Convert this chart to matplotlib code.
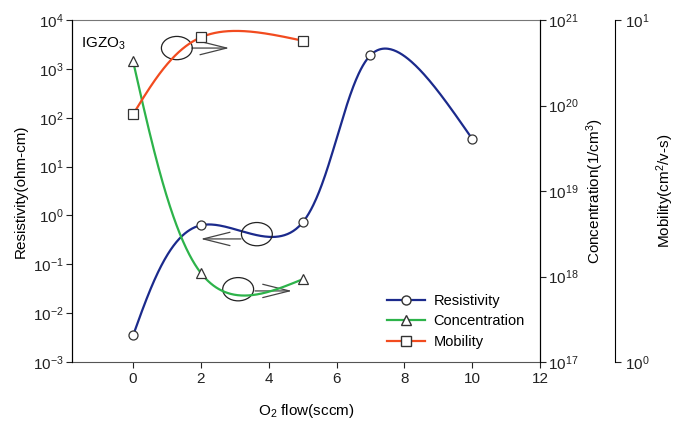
import matplotlib.pyplot as plt
import numpy as np
from matplotlib.patches import Ellipse

plt.rcParams['font.family'] = ['Liberation Sans', 'DejaVu Sans']
plt.rcParams['mathtext.fontset'] = 'custom'
plt.rcParams['mathtext.rm'] = 'Liberation Sans'
plt.rcParams['mathtext.it'] = 'Liberation Sans'

# data
o2_flow = [0, 2, 5, 7, 10]
resistivity = [3.5e-3, 0.63, 0.72, 1.9e3, 37]
conc_flow = [0, 2, 5]
concentration = [3.3e20, 1.1e18, 9.3e17]
mob_flow = [0, 2, 5]
mobility = [5.3, 8.9, 8.7]

C_RES = '#1b2a8c'
C_CON = '#2db34a'
C_MOB = '#f24b1f'


def natural(t, v, ts):
    k = len(t)
    h = np.diff(t)
    A = np.zeros((k, k))
    b = np.zeros(k)
    A[0, 0] = A[-1, -1] = 1
    for i in range(1, k - 1):
        A[i, i - 1] = h[i - 1]
        A[i, i] = 2 * (h[i - 1] + h[i])
        A[i, i + 1] = h[i]
        b[i] = 6 * ((v[i + 1] - v[i]) / h[i] - (v[i] - v[i - 1]) / h[i - 1])
    M = np.linalg.solve(A, b)
    idx = np.clip(np.searchsorted(t, ts) - 1, 0, k - 2)
    t0, t1 = t[idx], t[idx + 1]
    hh = t1 - t0
    return (M[idx] * (t1 - ts) ** 3 / (6 * hh) + M[idx + 1] * (ts - t0) ** 3 / (6 * hh)
            + (v[idx] / hh - M[idx] * hh / 6) * (t1 - ts)
            + (v[idx + 1] / hh - M[idx + 1] * hh / 6) * (ts - t0))


def smooth(a, x, y, n=400):
    """parametric spline (uniform parameter) through the points in screen space"""
    pts = a.transData.transform(np.column_stack([x, y]))
    t = np.arange(len(pts), dtype=float)
    ts = np.linspace(0, t[-1], n)
    px = natural(t, pts[:, 0], ts)
    py = natural(t, pts[:, 1], ts)
    out = a.transData.inverted().transform(np.column_stack([px, py]))
    return out[:, 0], out[:, 1]


fig = plt.figure(figsize=(6.75, 4.22), dpi=100)
ax = fig.add_axes([0.1067, 0.142, 0.6933, 0.8106])
ax2 = ax.twinx()
ax3 = ax.twinx()
ax3.spines['right'].set_position(('axes', 1.16))

ax.set_yscale('log')
ax.set_ylim(1e-3, 1e4)
ax.set_xlim(-1.8, 12)
ax.set_xticks(range(0, 13, 2))
ax.set_yticks([10.0 ** p for p in range(-3, 5)])
ax2.set_yscale('log')
ax2.set_ylim(1e17, 1e21)
ax2.set_yticks([10.0 ** p for p in range(17, 22)])
ax3.set_yscale('log')
ax3.set_ylim(1, 10)
ax3.set_yticks([1, 10])

xs, ys = smooth(ax, o2_flow, resistivity)
ax.plot(xs, ys, color=C_RES, lw=1.6)
ax.plot(o2_flow, resistivity, 'o', ms=6.5, mfc='white', mec='#333333', mew=0.9)
xs, ys = smooth(ax2, conc_flow, concentration)
ax2.plot(xs, ys, color=C_CON, lw=1.6)
ax2.plot(conc_flow, concentration, '^', ms=6.5, mfc='white', mec='#333333', mew=0.9)
xs, ys = smooth(ax3, mob_flow, mobility)
ax3.plot(xs, ys, color=C_MOB, lw=1.6)
ax3.plot(mob_flow, mobility, 's', ms=6.5, mfc='white', mec='#333333', mew=0.9)

for a in (ax, ax2, ax3):
    a.minorticks_off()
    a.tick_params(direction='out', length=4, width=0.8, labelsize=11, colors='#222222')
ax.tick_params(axis='y', pad=2)
ax2.tick_params(axis='y', pad=2)
ax.spines['top'].set_color('#777777')
ax.spines['bottom'].set_color('#555555')
for a in (ax2, ax3):
    a.spines['top'].set_visible(False)
    a.spines['bottom'].set_visible(False)
ax3.spines['left'].set_visible(False)

ax.set_xlabel('O$_2$ flow(sccm)', fontsize=11, labelpad=11)
ax.set_ylabel('Resistivity(ohm-cm)', fontsize=11, labelpad=4)
ax2.set_ylabel('Concentration(1/cm$^3$)', fontsize=11, labelpad=4)
ax3.set_ylabel('Mobility(cm$^2$/v-s)', fontsize=11, labelpad=3)

ax.text(0.02, 0.955, 'IGZO$_3$', transform=ax.transAxes, fontsize=11, va='top')

# ellipses and arrows pointing to the matching axis
notes = [((0.224, 0.918), (0.256, 0.918), (0.336, 0.918)),
         ((0.395, 0.374), (0.361, 0.36), (0.275, 0.36)),
         ((0.355, 0.213), (0.391, 0.208), (0.47, 0.208))]
for centre, start, end in notes:
    ax.add_patch(Ellipse(centre, 0.066, 0.068, transform=ax.transAxes,
                         fill=False, ec='#222222', lw=0.9, zorder=5))
    ax.annotate('', xy=end, xytext=start, xycoords='axes fraction',
                arrowprops=dict(arrowstyle='->, head_length=1.6, head_width=0.4',
                                color='#444444', lw=0.9, mutation_scale=12,
                                shrinkA=0, shrinkB=0))

handles = [plt.Line2D([], [], color=C_RES, lw=1.6, marker='o', ms=6.5, mfc='white', mec='#333333'),
           plt.Line2D([], [], color=C_CON, lw=1.6, marker='^', ms=6.5, mfc='white', mec='#333333'),
           plt.Line2D([], [], color=C_MOB, lw=1.6, marker='s', ms=6.5, mfc='white', mec='#333333')]
ax.legend(handles, ['Resistivity', 'Concentration', 'Mobility'], loc='lower right',
          bbox_to_anchor=(0.995, 0.0), frameon=False, fontsize=10.5, handlelength=2.6,
          labelspacing=0.45, handletextpad=0.6)

fig.savefig('out.png', dpi=100)
